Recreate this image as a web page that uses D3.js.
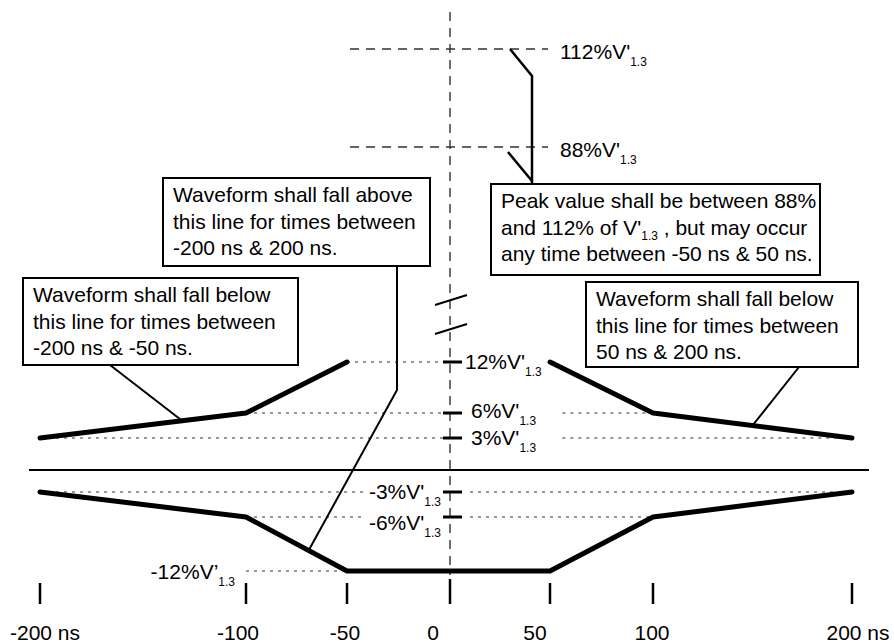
<!DOCTYPE html>
<html>
<head>
<meta charset="utf-8">
<script src="https://cdn.jsdelivr.net/npm/d3@7"></script>
<style>
  body { margin: 0; background: #fff; }
  svg { display: block; }
  text { font-family: "Liberation Sans", Arial, sans-serif; fill: #000; }
</style>
</head>
<body>
<svg id="chart" width="894" height="644"></svg>
<script>
// time axis (ns)
var xTickValues = [-200, -100, -50, 0, 50, 100, 200];
var xTickLabels = ["-200 ns", "-100", "-50", "0", "50", "100", "200 ns"];

// limit levels, % of V'1.3
var levelValues = [112, 88, 12, 6, 3, -3, -6, -12];
var levelLabels = ["112%V'", "88%V'", "12%V'", "6%V'", "3%V'", "-3%V'", "-6%V'", "-12%V\u2019"];

// upper limits (fall below) and lower limit (fall above): [ns, %]
var upperLeft = [[-200, 3], [-100, 6], [-50, 12]];
var upperRight = [[50, 12], [100, 6], [200, 3]];
var lowerLimit = [[-200, -3], [-100, -6], [-50, -12], [50, -12], [100, -6], [200, -3]];

// peak window
var peakWindow = [-50, 50];

// dotted guide segments: [level, from ns, to ns]
var guides = [
	[12, -50, 0], [6, -100, 0], [6, 56, 100], [3, -200, 0], [3, 56, 200],
	[-3, -200, -41], [-3, 10, 200], [-6, -100, -41], [-6, 10, 100], [-12, -100, -50]
];

var svg = d3.select("#chart");

// the sketch is not drawn to scale, so both scales are piecewise
var x = d3.scaleLinear()
	.domain(xTickValues)
	.range([40, 246, 347, 450, 550, 653, 852]);

var y = d3.scaleLinear()
	.domain([-12, -6, -3, 0, 3, 6, 12, 88, 112])
	.range([571, 517, 492, 470, 438, 413, 362, 147, 49]);

var line = d3.line()
	.x(function(d) { return x(d[0]); })
	.y(function(d) { return y(d[1]); });

function interp(pts, t) {
	for (var i = 1; i < pts.length; i++) {
		if (t <= pts[i][0]) {
			var a = pts[i-1], b = pts[i];
			var f = (t - a[0]) / (b[0] - a[0]);
			return [t, a[1] + f * (b[1] - a[1])];
		}
	}
	return pts[pts.length-1];
}

var x0 = x(0);

// centre dashed axis
svg.append("line")
	.attr("x1", x0).attr("x2", x0)
	.attr("y1", 12).attr("y2", 575)
	.attr("stroke", "#333").attr("stroke-width", 1.4)
	.attr("stroke-dasharray", "9,7");

// peak window dashed lines
svg.selectAll(".peak")
	.data([112, 88])
	.enter().append("line")
	.attr("class", "peak")
	.attr("x1", x(peakWindow[0]) + 3).attr("x2", x(peakWindow[1]) - 2)
	.attr("y1", function(d) { return y(d); })
	.attr("y2", function(d) { return y(d); })
	.attr("stroke", "#333").attr("stroke-width", 1.4)
	.attr("stroke-dasharray", "9,7");

// dotted guides
svg.selectAll(".guide")
	.data(guides)
	.enter().append("line")
	.attr("class", "guide")
	.attr("x1", function(d) { return x(d[1]); })
	.attr("x2", function(d) { return x(d[2]); })
	.attr("y1", function(d) { return y(d[0]); })
	.attr("y2", function(d) { return y(d[0]); })
	.attr("stroke", "#333").attr("stroke-width", 1)
	.attr("stroke-dasharray", "3,5");

// zero line
svg.append("line")
	.attr("x1", x(-200) - 11).attr("x2", x(200) + 17)
	.attr("y1", y(0)).attr("y2", y(0))
	.attr("stroke", "#000").attr("stroke-width", 2);

// level ticks on the centre axis
svg.selectAll(".ltick")
	.data([12, 6, 3, -3, -6])
	.enter().append("line")
	.attr("class", "ltick")
	.attr("x1", x0 - 7).attr("x2", x0 + 12)
	.attr("y1", function(d) { return y(d); })
	.attr("y2", function(d) { return y(d); })
	.attr("stroke", "#000").attr("stroke-width", 3);

// break marks
[300, 329].forEach(function(yy) {
	svg.append("line")
		.attr("x1", x0 - 15).attr("y1", yy + 5)
		.attr("x2", x0 + 17).attr("y2", yy - 5)
		.attr("stroke", "#000").attr("stroke-width", 2);
});

// limit lines
svg.selectAll(".limit")
	.data([upperLeft, upperRight, lowerLimit])
	.enter().append("path")
	.attr("class", "limit")
	.attr("d", line)
	.attr("fill", "none")
	.attr("stroke", "#000")
	.attr("stroke-width", 5)
	.attr("stroke-linecap", "round")
	.attr("stroke-linejoin", "round");

// level labels with subscript
var labelPos = {
	"112": { x: x(50) + 10, anchor: "start", dy: 10 },
	"88": { x: x(50) + 10, anchor: "start", dy: 10 },
	"12": { x: x0 + 15, anchor: "start", dy: 7 },
	"6": { x: x0 + 21, anchor: "start", dy: 5 },
	"3": { x: x0 + 21, anchor: "start", dy: 7 },
	"-3": { x: x0 - 9, anchor: "end", dy: 7 },
	"-6": { x: x0 - 9, anchor: "end", dy: 13 },
	"-12": { x: x(-100) - 11, anchor: "end", dy: 8 }
};

levelValues.forEach(function(v, i) {
	var p = labelPos[v];
	var t = svg.append("text")
		.attr("x", p.x)
		.attr("y", y(v) + p.dy)
		.attr("text-anchor", p.anchor)
		.style("font-size", "21px");
	t.append("tspan").text(levelLabels[i]);
	t.append("tspan").attr("dy", 7).style("font-size", "12px").text("1.3");
});

// peak bracket
var bx = x(40) + 2;
svg.append("path")
	.attr("d", "M" + x(30) + "," + y(112) + " L" + bx + "," + (y(112) + 27) + " L" + bx + ",184")
	.attr("fill", "none").attr("stroke", "#000").attr("stroke-width", 2.5);
svg.append("path")
	.attr("d", "M" + (x(30) - 2) + "," + (y(88) + 5) + " L" + bx + "," + 181)
	.attr("fill", "none").attr("stroke", "#000").attr("stroke-width", 2.5);

// callout boxes
var boxes = [
	{ x: 23, y: 278, w: 275, h: 87, lines: [["Waveform shall fall below"], ["this line for times between"], ["-200 ns & -50 ns."]] },
	{ x: 163, y: 178, w: 267, h: 88, lines: [["Waveform shall fall above"], ["this line for times between"], ["-200 ns & 200 ns."]] },
	{ x: 491, y: 184, w: 329, h: 91, lines: [["Peak value shall be between 88%"], ["and 112% of V'", "1.3", " , but may occur"], ["any time between -50 ns & 50 ns."]] },
	{ x: 586, y: 282, w: 272, h: 85, lines: [["Waveform shall fall below"], ["this line for times between"], ["50 ns & 200 ns."]] }
];

// leader lines from boxes to the limit lines
var p1 = interp(upperLeft, -131);
svg.append("line")
	.attr("x1", 110).attr("y1", 365)
	.attr("x2", x(p1[0])).attr("y2", y(p1[1]))
	.attr("stroke", "#000").attr("stroke-width", 2);

var p4 = interp(upperRight, 150);
svg.append("line")
	.attr("x1", 799).attr("y1", 367)
	.attr("x2", x(p4[0])).attr("y2", y(p4[1]))
	.attr("stroke", "#000").attr("stroke-width", 2);

var p2 = interp(lowerLimit, -69);
svg.append("path")
	.attr("d", "M397,266 L397,390 L" + x(p2[0]) + "," + y(p2[1]))
	.attr("fill", "none").attr("stroke", "#000").attr("stroke-width", 2);

boxes.forEach(function(b) {
	var g = svg.append("g");
	g.append("rect")
		.attr("x", b.x).attr("y", b.y)
		.attr("width", b.w).attr("height", b.h)
		.attr("fill", "#fff").attr("stroke", "#000").attr("stroke-width", 2);
	b.lines.forEach(function(parts, i) {
		var t = g.append("text")
			.attr("x", b.x + 10)
			.attr("y", b.y + 24 + i * 26.5)
			.style("font-size", "21px");
		if (parts.length == 1) {
			t.text(parts[0]);
		} else {
			t.append("tspan").text(parts[0]);
			t.append("tspan").attr("dy", 5).style("font-size", "12px").text(parts[1]);
			t.append("tspan").attr("dy", -5).text(parts[2]);
		}
	});
});

// time axis ticks and labels
svg.selectAll(".xtick")
	.data(xTickValues)
	.enter().append("line")
	.attr("class", "xtick")
	.attr("x1", function(d) { return x(d); })
	.attr("x2", function(d) { return x(d); })
	.attr("y1", function(d) { return d == 0 ? 579 : 583; })
	.attr("y2", 604)
	.attr("stroke", "#000").attr("stroke-width", 2.5);

// labels sit a little off their ticks in the original sketch
var labelShift = [5, -8, -2, -17, -15, -1, 6];

svg.selectAll(".xlabel")
	.data(xTickValues)
	.enter().append("text")
	.attr("class", "xlabel")
	.attr("x", function(d, i) { return x(d) + labelShift[i]; })
	.attr("y", 640)
	.attr("text-anchor", "middle")
	.style("font-size", "21px")
	.text(function(d, i) { return xTickLabels[i]; });
</script>
</body>
</html>
